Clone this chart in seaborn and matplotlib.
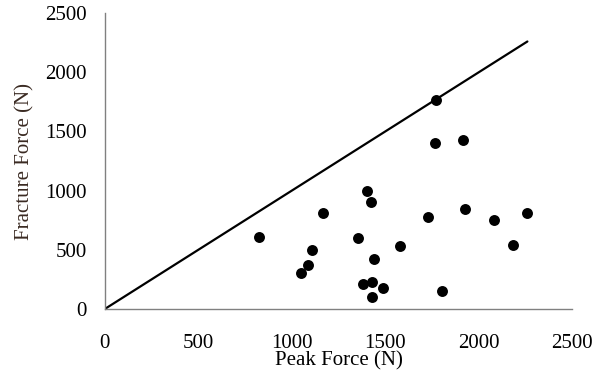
import matplotlib
matplotlib.use("Agg")
import matplotlib.pyplot as plt
import seaborn as sns
import pandas as pd

peak_force = [824, 1772, 1765, 1918, 1404, 1424, 1165, 1731, 1927, 2079, 2257,
              1353, 1579, 2182, 1110, 1089, 1047, 1437, 1378, 1429, 1490, 1428, 1804]
fracture_force = [608, 1768, 1399, 1425, 997, 901, 813, 777, 845, 752, 813,
                  597, 532, 543, 498, 374, 300, 425, 211, 228, 180, 104, 152]
line_x = [0, 2260]
line_y = [0, 2260]
ticks = [0, 500, 1000, 1500, 2000, 2500]

sns.set_theme(style="white")
plt.rcParams['font.family'] = ['Liberation Serif', 'DejaVu Serif']

df = pd.DataFrame({"Peak Force (N)": peak_force, "Fracture Force (N)": fracture_force})
line_df = pd.DataFrame({"x": line_x, "y": line_y})

fig = plt.figure(figsize=(6.03, 3.74), dpi=100)
ax = fig.add_axes([0.174, 0.174, 0.775, 0.791])

sns.lineplot(data=line_df, x="x", y="y", ax=ax, color="black", linewidth=1.6)
sns.scatterplot(data=df, x="Peak Force (N)", y="Fracture Force (N)", ax=ax,
                color="black", s=62, edgecolor="black", linewidth=0, zorder=3)

ax.set_xlim(0, 2500)
ax.set_ylim(0, 2500)
ax.set_xticks(ticks)
ax.set_yticks(ticks)
ax.set_xticklabels([str(t) for t in ticks])
ax.set_yticklabels([str(t) for t in ticks])

for side in ["top", "right"]:
    ax.spines[side].set_visible(False)
for side in ["left", "bottom"]:
    ax.spines[side].set_color("#808080")
    ax.spines[side].set_linewidth(1.0)

ax.tick_params(axis="both", which="major", direction="out", length=6, width=1,
               color="#808080", labelsize=15, labelcolor="black")
ax.tick_params(axis="x", pad=12)
ax.tick_params(axis="y", pad=7)

ax.set_xlabel("Peak Force (N)", fontsize=15, color="black", labelpad=-1)
ax.set_ylabel("Fracture Force (N)", fontsize=15, color="#3a2a22", labelpad=8)

fig.savefig("out.png", dpi=100)
